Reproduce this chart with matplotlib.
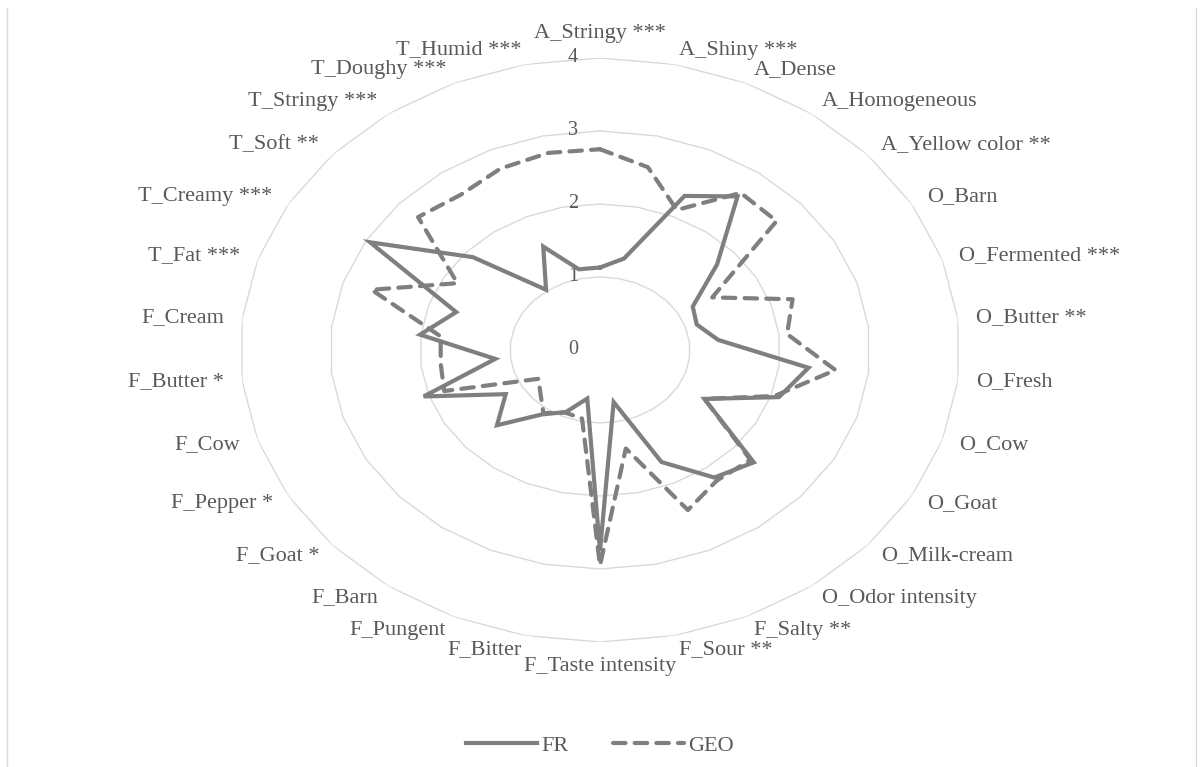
import numpy as np
import matplotlib
matplotlib.use("Agg")
import matplotlib.pyplot as plt
from matplotlib.lines import Line2D
from matplotlib.transforms import offset_copy

categories = [
    "A_Stringy ***", "A_Shiny ***", "A_Dense", "A_Homogeneous", "A_Yellow color **",
    "O_Barn", "O_Fermented ***", "O_Butter **", "O_Fresh", "O_Cow", "O_Goat",
    "O_Milk-cream", "O_Odor intensity", "F_Salty **", "F_Sour **", "F_Taste intensity",
    "F_Bitter", "F_Pungent", "F_Barn", "F_Goat *", "F_Pepper *", "F_Cow", "F_Butter *",
    "F_Cream", "T_Fat ***", "T_Creamy ***", "T_Soft **", "T_Stringy ***",
    "T_Doughy ***", "T_Humid ***",
]
fr = [1.13, 1.28, 2.31, 2.60, 1.75, 1.19, 1.13, 1.32, 2.33, 2.09, 1.34, 2.30, 2.16,
      1.68, 0.73, 2.75, 0.68, 0.93, 1.09, 1.54, 1.21, 2.06, 1.17, 2.01, 1.68, 2.95,
      1.90, 1.02, 1.55, 1.13]
geo = [2.75, 2.56, 2.10, 2.66, 2.64, 1.44, 2.25, 2.09, 2.63, 2.04, 1.34, 2.25, 2.21,
       2.40, 1.38, 2.95, 0.96, 0.94, 1.07, 0.89, 0.79, 1.82, 1.78, 1.78, 2.67, 1.83,
       2.72, 2.63, 2.72, 2.76]
ring_values = [0, 1, 2, 3, 4]

plt.rcParams['font.family'] = ['Liberation Serif', 'DejaVu Serif']
text_color = '#595959'
line_color = '#7f7f7f'
grid_color = '#d9d9d9'

n = len(categories)
angles = np.linspace(0, 2 * np.pi, n, endpoint=False)
closed = np.append(angles, angles[0])

fig = plt.figure(figsize=(12, 7.67), dpi=100)
ax = fig.add_axes([0.2, 0.163, 0.6, 0.7614], projection='polar')
ax.set_aspect('auto')
ax.set_theta_zero_location('N')
ax.set_theta_direction(-1)
ax.set_ylim(0, 4)
ax.set_xticks([])
ax.set_yticks([])
ax.grid(False)
ax.spines['polar'].set_visible(False)
ax.patch.set_alpha(0)

# polygon gridlines like Excel
for k in ring_values[1:]:
    ax.plot(closed, [k] * (n + 1), color=grid_color, lw=1, zorder=1)

# ring value labels
lab_tr = offset_copy(ax.transData, fig=fig, x=-22, y=0, units='dots')
for k in ring_values:
    ax.text(0, k, str(k), transform=lab_tr, ha='right', va='center',
            fontsize=14.5, color=text_color)

ax.plot(closed, fr + fr[:1], color=line_color, lw=3, solid_joinstyle='miter',
        label='FR', zorder=3)
ax.plot(closed, geo + geo[:1], color=line_color, lw=3, linestyle=(0, (3, 2.2)),
        dash_capstyle='round', label='GEO', zorder=3)

for i, (a, name) in enumerate(zip(angles, categories)):
    if i == 0:
        ha, va = 'center', 'bottom'
    elif i == n // 2:
        ha, va = 'center', 'top'
    elif i < n // 2:
        ha, va = 'left', 'center'
    else:
        ha, va = 'right', 'center'
    ax.text(a, 4.2, name, ha=ha, va=va, fontsize=16, color=text_color)

fig.legend(loc='lower center', bbox_to_anchor=(0.5, -0.012), ncol=2, frameon=False,
           fontsize=16, labelcolor=text_color, handlelength=3.2, handletextpad=0.2,
           columnspacing=2.0)

for xf in (7 / 1200, 1196 / 1200):
    fig.add_artist(Line2D([xf, xf], [0, 1 - 8 / 767], transform=fig.transFigure,
                          color=grid_color, lw=1))

fig.savefig('out.png', dpi=100)
